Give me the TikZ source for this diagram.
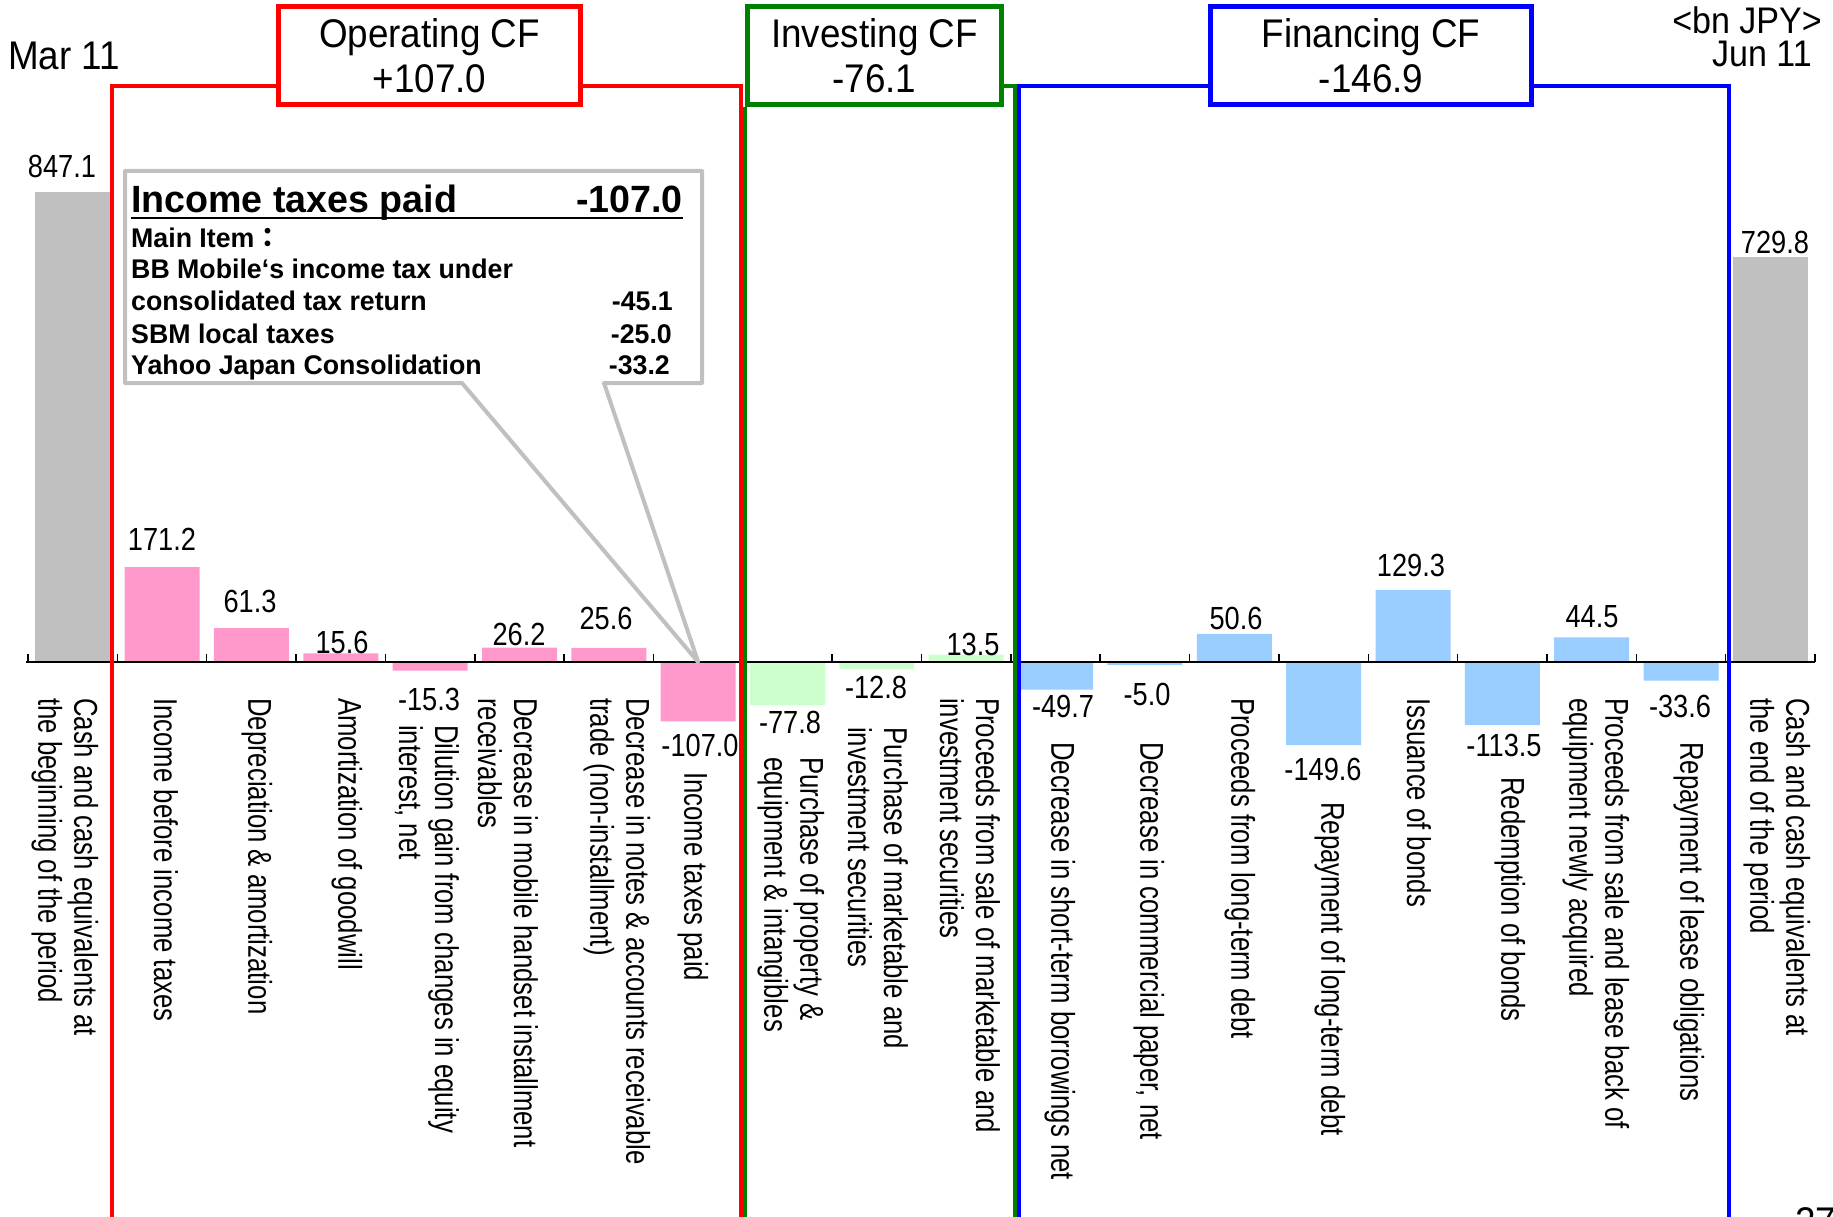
\documentclass[tikz,border=0pt]{standalone}
\usepackage{fontspec}
\setmainfont{Liberation Sans}
\newfontfamily\labelfont[FakeStretch=0.78]{Liberation Sans}
\newfontfamily\valuefont[FakeStretch=0.85]{Liberation Sans}
\newfontfamily\headfont[FakeStretch=0.92]{Liberation Sans}
\newfontfamily\notefont[FakeStretch=0.99]{Liberation Sans}
\newfontfamily\cjkfont{Noto Sans CJK JP}
\definecolor{opbar}{HTML}{FF99CC}
\definecolor{invbar}{HTML}{CCFFCC}
\definecolor{finbar}{HTML}{99CCFF}
\definecolor{cashbar}{HTML}{C0C0C0}
\definecolor{invline}{HTML}{008000}
\begin{document}
\begin{tikzpicture}[x=1pt,y=-1pt,
    val/.style={font=\valuefont\fontsize{32}{36}\selectfont,inner sep=0pt},
    lbl/.style={font=\labelfont\fontsize{33}{36}\selectfont,rotate=-90,anchor=west,align=left,inner sep=0pt},
    head/.style={draw,line width=5pt,minimum height=98pt,align=center,font=\headfont\fontsize{40}{45}\selectfont},
    bracket/.style={line width=4pt},
    notetitle/.style={font=\notefont\bfseries\fontsize{38}{40}\selectfont,inner sep=0pt},
    note/.style={font=\notefont\bfseries\fontsize{27}{30}\selectfont,inner sep=0pt}]
  \path[use as bounding box,fill=white] (0,0) rectangle (1833,1217);
  \coordinate (hy) at (0,86);
  \coordinate (bot) at (0,1217);
  \coordinate (tip) at (698.15,662);

  \fill[cashbar] (35.2,662) rectangle (110.2,191.9);
  \fill[opbar] (124.6,662) rectangle (199.6,567)
    (213.9,662) rectangle (288.9,628)
    (303.3,662) rectangle (378.3,653.3)
    (392.6,662) rectangle (467.6,670.5)
    (482.0,662) rectangle (557.0,647.5)
    (571.3,662) rectangle (646.3,647.8)
    (660.7,662) rectangle (735.7,721.4);
  \fill[invbar] (750.0,662) rectangle (825.0,705.2)
    (839.4,662) rectangle (914.4,669.1)
    (928.7,662) rectangle (1003.7,654.5);
  \fill[finbar] (1018.1,662) rectangle (1093.1,689.6)
    (1107.4,662) rectangle (1182.4,664.8)
    (1196.8,662) rectangle (1271.8,633.9)
    (1286.1,662) rectangle (1361.1,745)
    (1375.5,662) rectangle (1450.5,590.2)
    (1464.8,662) rectangle (1539.8,725)
    (1554.2,662) rectangle (1629.2,637.3)
    (1643.5,662) rectangle (1718.5,680.6);
  \fill[cashbar] (1732.9,662) rectangle (1807.9,257);

  \draw[line width=2pt] (26,662) -- (1815,662);
  \draw[line width=1.5pt]
    (28,662) -- (28,654) (117.35,662) -- (117.35,654)
    (206.7,662) -- (206.7,654) (296.05,662) -- (296.05,654)
    (385.4,662) -- (385.4,654) (474.75,662) -- (474.75,654)
    (564.1,662) -- (564.1,654) (653.45,662) -- (653.45,654)
    (742.8,662) -- (742.8,654) (832.15,662) -- (832.15,654)
    (921.5,662) -- (921.5,654) (1010.85,662) -- (1010.85,654)
    (1100.2,662) -- (1100.2,654) (1189.55,662) -- (1189.55,654)
    (1278.9,662) -- (1278.9,654) (1368.25,662) -- (1368.25,654)
    (1457.6,662) -- (1457.6,654) (1546.95,662) -- (1546.95,654)
    (1636.3,662) -- (1636.3,654) (1725.65,662) -- (1725.65,654)
    (1815,662) -- (1815,654);

  \node[head,red,text=black,minimum width=302pt] (op) at (429.5,55.5) {Operating CF\\+107.0};
  \node[head,invline,text=black,minimum width=254pt] (inv) at (874.5,55.5) {Investing CF\\-76.1};
  \node[head,blue,text=black,minimum width=321pt] (fin) at (1371,55.5) {Financing CF\\-146.9};
  \draw[bracket,red] (op.west |- hy) -| (112,1217);
  \draw[bracket,red] (op.east |- hy) -| (741,1217);
  \draw[bracket,invline] (inv.south west) -- (inv.south west |- bot);
  \draw[bracket,invline] (inv.east |- hy) -| (1015,1217);
  \draw[bracket,blue] (fin.west |- hy) -| (1019,1217);
  \draw[bracket,blue] (fin.east |- hy) -| (1729,1217);

  \node[font=\headfont\fontsize{40}{40}\selectfont,inner sep=0pt] (mar) at (64,56) {Mar 11};
  \node[font=\headfont\fontsize{37}{40}\selectfont,anchor=east,inner sep=0pt] (unit) at (1822,20) {<bn JPY>};
  \node[font=\headfont\fontsize{37}{40}\selectfont,anchor=east,inner sep=0pt] (jun) at (1812,54) {Jun 11};
  \node[font=\headfont\fontsize{40}{40}\selectfont,anchor=north west,inner sep=0pt] (page) at (1795,1207) {27};

  \draw[line width=4pt,cashbar,fill=white,line join=round] (125,171) -- (702,171) -- (702,383)
    -- (604,383) -- (tip) -- (462,383) -- (125,383) -- cycle;
  \node[notetitle,anchor=base west] (ct) at (131,213) {Income taxes paid};
  \node[notetitle,anchor=base east] (cv) at (683,213) {-107.0};
  \draw[line width=2pt] ([yshift=-5pt]ct.base west) -- ([yshift=-5pt]cv.base east);
  \node[note,anchor=base west] (c1) at (131,247) {Main Item{\cjkfont ：}};
  \node[note,anchor=base west] (c2) at (131,278) {BB Mobile‘s income tax under};
  \node[note,anchor=base west] (c3) at (131,310) {consolidated tax return};
  \node[note,anchor=base east] (c3v) at (673,310) {-45.1};
  \node[note,anchor=base west] (c4) at (131,343) {SBM local taxes};
  \node[note,anchor=base east] (c4v) at (672,343) {-25.0};
  \node[note,anchor=base west] (c5) at (131,374) {Yahoo Japan Consolidation};
  \node[note,anchor=base east] (c5v) at (670,374) {-33.2};

  \node[val] (v0) at (62,166) {847.1};
  \node[val] (v1) at (162,539) {171.2};
  \node[val] (v2) at (250,601) {61.3};
  \node[val] (v3) at (342,642) {15.6};
  \node[val] (v4) at (429,699) {-15.3};
  \node[val] (v5) at (519,634) {26.2};
  \node[val] (v6) at (606,618) {25.6};
  \node[val] (v7) at (700,745) {-107.0};
  \node[val] (v8) at (790,722) {-77.8};
  \node[val] (v9) at (876,687) {-12.8};
  \node[val] (v10) at (973,644) {13.5};
  \node[val] (v11) at (1063,706) {-49.7};
  \node[val] (v12) at (1147,694) {-5.0};
  \node[val] (v13) at (1236,618) {50.6};
  \node[val] (v14) at (1323,769) {-149.6};
  \node[val] (v15) at (1411,565) {129.3};
  \node[val] (v16) at (1504,745) {-113.5};
  \node[val] (v17) at (1592,617) {44.5};
  \node[val] (v18) at (1680,706) {-33.6};
  \node[val] (v19) at (1775,242) {729.8};

  \node[lbl] (l0) at (65,698) {Cash and cash equivalents at\\the beginning of the period};
  \node[lbl] (l1) at (166,698) {Income before income taxes};
  \node[lbl] (l2) at (257,698) {Depreciation \& amortization};
  \node[lbl] (l3) at (347,698) {Amortization of goodwill};
  \node[lbl] (l4) at (427,725) {Dilution gain from changes in equity\\interest, net};
  \node[lbl] (l5) at (508,698) {Decrease in mobile handset installment\\receivables};
  \node[lbl] (l6) at (617,698) {Decrease in notes \& accounts receivable\\trade (non-installment)};
  \node[lbl] (l7) at (693,772) {Income taxes paid};
  \node[lbl] (l8) at (791,757) {Purchase of property \&\\equipment \& intangibles};
  \node[lbl] (l9) at (878,727) {Purchase of marketable and\\investment securities};
  \node[lbl] (l10) at (970,698) {Proceeds from sale of marketable and\\investment securities};
  \node[lbl] (l11) at (1060,742) {Decrease in short-term borrowings net};
  \node[lbl] (l12) at (1149,742) {Decrease in commercial paper, net};
  \node[lbl] (l13) at (1240,698) {Proceeds from long-term debt};
  \node[lbl] (l14) at (1330,802) {Repayment of long-term debt};
  \node[lbl] (l15) at (1419,698) {Issuance of bonds};
  \node[lbl] (l16) at (1510,777) {Redemption of bonds};
  \node[lbl] (l17) at (1596,698) {Proceeds from sale and lease back of\\equipment newly acquired};
  \node[lbl] (l18) at (1689,742) {Repayment of lease obligations};
  \node[lbl] (l19) at (1777,698) {Cash and cash equivalents at\\the end of the period};
\end{tikzpicture}
\end{document}
